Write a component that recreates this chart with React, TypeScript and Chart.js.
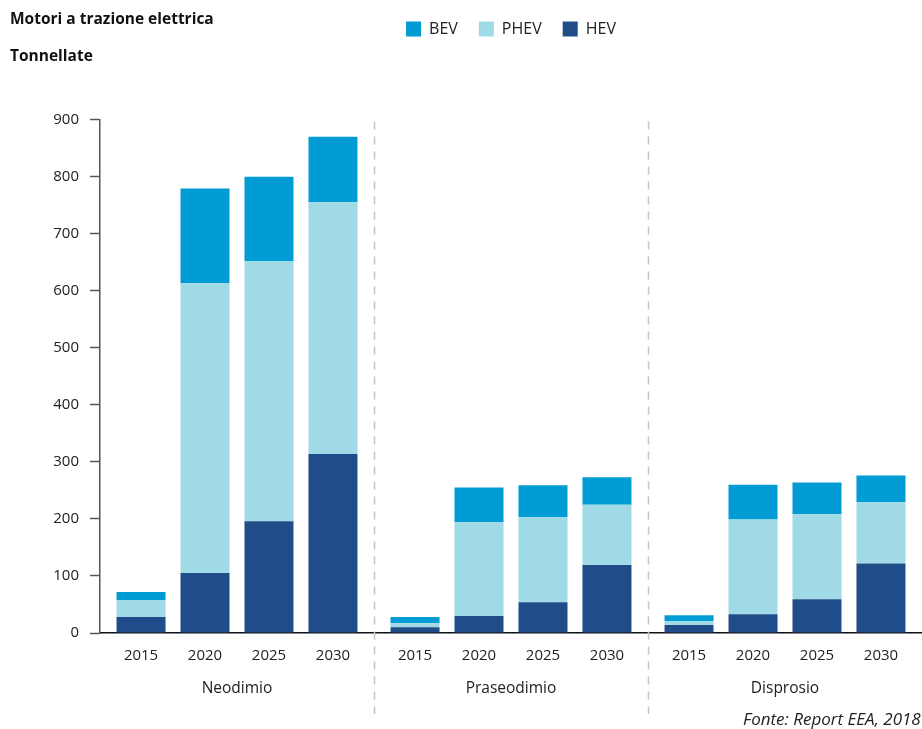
import React, { useEffect, useRef } from "react";
import { Chart, registerables } from "chart.js";

Chart.register(...registerables);

const CATEGORIES = ["Neodimio", "Praseodimio", "Disprosio"];
const YEARS = ["2015", "2020", "2025", "2030"];
// values in order: category-major, year-minor
const HEV = [28, 105, 196, 314, 10, 30, 54, 119, 14, 33, 59, 122];
const PHEV = [30, 508, 456, 441, 7, 164, 149, 106, 7, 166, 149, 107];
const BEV = [14, 166, 148, 115, 11, 61, 56, 48, 10, 61, 56, 47];
const Y_TICKS_MAX = 900;
const TITLE = "Motori a trazione elettrica";
const SUBTITLE = "Tonnellate";
const SOURCE = "Fonte: Report EEA, 2018";

const FONT = "'Open Sans', 'DejaVu Sans', sans-serif";
const COLORS: Record<string, string> = {
  HEV: "#204D89",
  PHEV: "#A0DAE6",
  BEV: "#009CD3",
};

const SERIES: [string, number[]][] = [
  ["HEV", HEV],
  ["PHEV", PHEV],
  ["BEV", BEV],
];

const extrasPlugin = {
  id: "extras",
  afterDraw(chart: any) {
    const ctx = chart.ctx;
    const x = chart.scales.x;
    const area = chart.chartArea;
    ctx.save();
    // main title
    ctx.fillStyle = "#111";
    ctx.font = `bold 15.5px ${FONT}`;
    ctx.textAlign = "left";
    ctx.textBaseline = "middle";
    ctx.fillText(TITLE, 10, 20);

    // separators
    ctx.strokeStyle = "#c4c4c4";
    ctx.lineWidth = 1.5;
    ctx.setLineDash([8, 7]);
    for (let i = 0; i < CATEGORIES.length - 1; i++) {
      const sx = (x.getPixelForTick(i) + x.getPixelForTick(i + 1)) / 2;
      ctx.beginPath();
      ctx.moveTo(Math.round(sx) + 0.5, area.top + 2);
      ctx.lineTo(Math.round(sx) + 0.5, 714);
      ctx.stroke();
    }
    ctx.setLineDash([]);

    // year labels under each stack
    ctx.fillStyle = "#222";
    ctx.font = `15px ${FONT}`;
    ctx.textAlign = "center";
    ctx.textBaseline = "middle";
    YEARS.forEach((yr, j) => {
      const meta = chart.getDatasetMeta(j * SERIES.length);
      meta.data.forEach((el: any) => {
        ctx.fillText(yr, el.x, area.bottom + 23);
      });
    });

    // source
    ctx.font = `italic 17px ${FONT}`;
    ctx.textAlign = "left";
    ctx.fillStyle = "#222";
    ctx.fillText(SOURCE, 743, 720);
    ctx.restore();
  },
};

export default function App() {
  const ref = useRef<HTMLCanvasElement>(null);
  useEffect(() => {
    if (!ref.current) return;
    const datasets: any[] = [];
    YEARS.forEach((yr, j) => {
      SERIES.forEach(([name, vals]) => {
        datasets.push({
          label: name,
          stack: yr,
          data: CATEGORIES.map((_, i) => vals[i * YEARS.length + j]),
          backgroundColor: COLORS[name],
          borderWidth: 0,
          categoryPercentage: 0.934,
          barPercentage: 0.766,
        });
      });
    });
    const chart = new Chart(ref.current, {
      type: "bar",
      data: { labels: CATEGORIES, datasets },
      plugins: [extrasPlugin],
      options: {
        animation: false,
        responsive: false,
        layout: { padding: { left: 10, top: 0, right: 0, bottom: 31 } },
        plugins: {
          tooltip: { enabled: false },
          legend: {
            position: "top",
            fullSize: false,
            reverse: true,
            labels: {
              filter: (item: any) => item.datasetIndex < SERIES.length,
              boxWidth: 15,
              boxHeight: 15,
              padding: 21,
              color: "#222",
              font: { family: FONT, size: 16 },
            },
          },
          title: {
            display: true,
            text: SUBTITLE,
            align: "start",
            position: "top",
            weight: 500,
            color: "#111",
            font: { family: FONT, size: 15.5, weight: "bold" },
            padding: { top: 0, bottom: 54 },
          },
        },
        scales: {
          x: {
            stacked: true,
            grid: { display: false, drawTicks: false },
            border: { display: true, color: "#111", width: 1.5 },
            afterFit: (s: any) => {
              s.height = 65;
            },
            ticks: {
              color: "#222",
              font: { family: FONT, size: 15.5 },
              padding: 46,
            },
          },
          y: {
            stacked: true,
            min: 0,
            max: Y_TICKS_MAX,
            afterFit: (s: any) => {
              s.width = 90;
            },
            ticks: {
              stepSize: 100,
              color: "#222",
              font: { family: FONT, size: 15 },
              padding: 11,
            },
            grid: {
              drawOnChartArea: false,
              drawTicks: true,
              tickLength: 10,
              tickColor: "#555",
              tickWidth: 1.5,
            },
            border: { display: true, color: "#555", width: 1.5 },
          },
        },
      } as any,
    });
    return () => chart.destroy();
  }, []);
  return (
    <div style={{ position: "absolute", left: 0, top: 0, width: 922, height: 729, background: "#fff" }}>
      <canvas ref={ref} width={922} height={729} />
    </div>
  );
}
